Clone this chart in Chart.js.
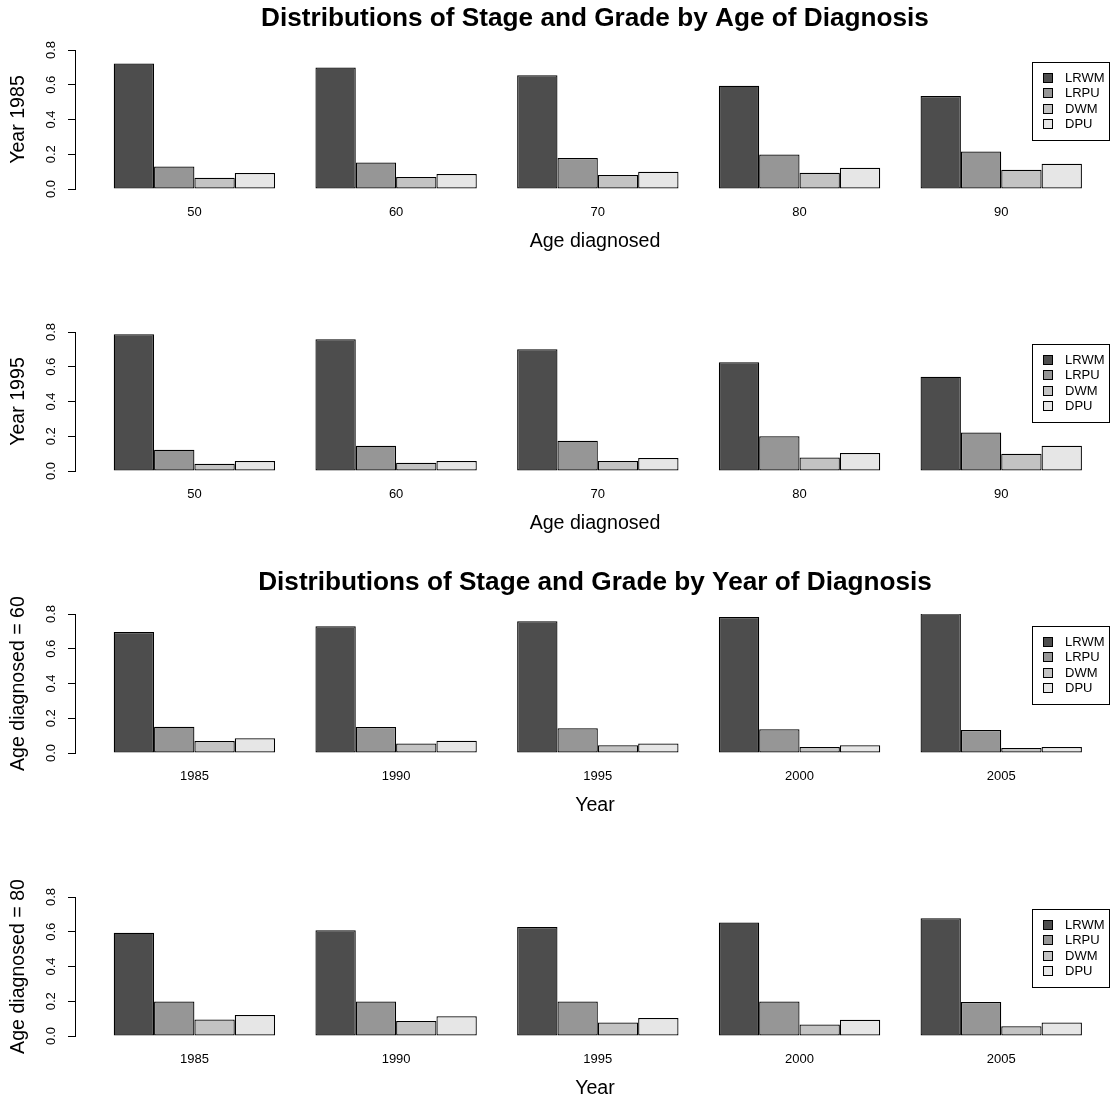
<!DOCTYPE html>
<html>
<head>
<meta charset="utf-8">
<script src="https://cdn.jsdelivr.net/npm/chart.js@4/dist/chart.umd.min.js"></script>
<style>
  html, body { margin: 0; padding: 0; background: #fff; overflow: hidden; }
  .panel { position: absolute; left: 0; width: 1115px; height: 255px; }
</style>
</head>
<body>
<div class="panel" style="top:0px"><canvas id="c1" width="1115" height="255"></canvas></div>
<div class="panel" style="top:282px"><canvas id="c2" width="1115" height="255"></canvas></div>
<div class="panel" style="top:564px"><canvas id="c3" width="1115" height="255"></canvas></div>
<div class="panel" style="top:847px"><canvas id="c4" width="1115" height="255"></canvas></div>
<script>
const series = ["LRWM", "LRPU", "DWM", "DPU"];
const barColors = ["#4d4d4d", "#969696", "#c3c3c3", "#e6e6e6"];

const ages = [50, 60, 70, 80, 90];
const years = [1985, 1990, 1995, 2000, 2005];
const yTicks = [0, 0.2, 0.4, 0.6, 0.8];

// by age of diagnosis, year 1985
const lrwm1985 = [0.722, 0.700, 0.655, 0.595, 0.536];
const lrpu1985 = [0.130, 0.153, 0.178, 0.199, 0.216];
const dwm1985 = [0.065, 0.069, 0.080, 0.094, 0.111];
const dpu1985 = [0.092, 0.086, 0.100, 0.122, 0.146];

// by age of diagnosis, year 1995
const lrwm1995 = [0.787, 0.758, 0.701, 0.626, 0.542];
const lrpu1995 = [0.122, 0.145, 0.174, 0.200, 0.221];
const dwm1995 = [0.042, 0.048, 0.057, 0.078, 0.099];
const dpu1995 = [0.057, 0.058, 0.075, 0.104, 0.145];

// by year of diagnosis, age 60
const lrwmAge60 = [0.697, 0.729, 0.758, 0.783, 0.804];
const lrpuAge60 = [0.151, 0.149, 0.143, 0.137, 0.132];
const dwmAge60 = [0.069, 0.055, 0.044, 0.034, 0.029];
const dpuAge60 = [0.085, 0.071, 0.055, 0.044, 0.034];

// by year of diagnosis, age 80
const lrwmAge80 = [0.594, 0.609, 0.628, 0.653, 0.678];
const lrpuAge80 = [0.198, 0.198, 0.198, 0.198, 0.196];
const dwmAge80 = [0.095, 0.087, 0.077, 0.066, 0.056];
const dpuAge80 = [0.121, 0.114, 0.104, 0.093, 0.078];

const panels = [
  { id: "c1", title: "Distributions of Stage and Grade by Age of Diagnosis", yTitle: "Year 1985",
    xTitle: "Age diagnosed", groups: ages, data: [lrwm1985, lrpu1985, dwm1985, dpu1985] },
  { id: "c2", title: "", yTitle: "Year 1995",
    xTitle: "Age diagnosed", groups: ages, data: [lrwm1995, lrpu1995, dwm1995, dpu1995] },
  { id: "c3", title: "Distributions of Stage and Grade by Year of Diagnosis", yTitle: "Age diagnosed = 60",
    xTitle: "Year", groups: years, data: [lrwmAge60, lrpuAge60, dwmAge60, dpuAge60] },
  { id: "c4", title: "", yTitle: "Age diagnosed = 80",
    xTitle: "Year", groups: years, data: [lrwmAge80, lrpuAge80, dwmAge80, dpuAge80] },
];

const fontFamily = "'Liberation Sans', Arial, Helvetica, sans-serif";
Chart.defaults.font.family = fontFamily;
Chart.defaults.color = "#000";

// boxed legend in the top right corner, like R's legend()
const boxLegend = {
  id: "boxLegend",
  afterDatasetsDraw(chart) {
    const { ctx, chartArea } = chart;
    const sets = chart.data.datasets;
    const w = 77;
    const rowH = 15.5;
    const h = rowH * sets.length + 16;
    const left = Math.round(chart.width - 6 - w);
    const top = Math.round(chartArea.top + 11.5);
    ctx.save();
    ctx.fillStyle = "#fff";
    ctx.fillRect(left, top, w, h);
    ctx.strokeStyle = "#000";
    ctx.lineWidth = 1;
    ctx.strokeRect(left + 0.5, top + 0.5, w, h);
    ctx.font = "13px " + fontFamily;
    ctx.textBaseline = "middle";
    ctx.textAlign = "left";
    sets.forEach((ds, i) => {
      const cy = Math.round(top + 15.6 + i * rowH);
      ctx.fillStyle = ds.backgroundColor;
      ctx.fillRect(left + 11.5, cy - 4.5, 9, 9);
      ctx.strokeRect(left + 11.5, cy - 4.5, 9, 9);
      ctx.fillStyle = "#000";
      ctx.fillText(ds.label, left + 33, cy + 0.5);
    });
    ctx.restore();
  },
};

function makeChart(p) {
  const step = p.groups[1] - p.groups[0];
  new Chart(document.getElementById(p.id), {
    type: "bar",
    data: {
      labels: p.groups,
      datasets: series.map((name, i) => ({
        label: name,
        data: p.data[i],
        backgroundColor: barColors[i],
        borderColor: "#000",
        borderWidth: 1.25,
        borderSkipped: false,
        categoryPercentage: 0.8,
        barPercentage: 1,
      })),
    },
    options: {
      responsive: false,
      animation: false,
      layout: { padding: { top: p.title ? 0 : 50, left: 0, right: 0, bottom: 0 } },
      plugins: {
        legend: { display: false },
        tooltip: { enabled: false },
        title: {
          display: !!p.title,
          text: p.title,
          fullSize: false,
          color: "#000",
          font: { size: 26.2, weight: "bold" },
          padding: { top: 3.3, bottom: 15.3 },
        },
      },
      scales: {
        x: {
          type: "linear",
          offset: false,
          bounds: "data",
          min: p.groups[0] - 0.592 * step,
          max: p.groups[p.groups.length - 1] + 0.564 * step,
          grid: { display: false, drawTicks: false },
          border: { display: false },
          afterBuildTicks: (s) => {
            s.ticks = p.groups.map((v) => ({ value: v }));
          },
          ticks: {
            autoSkip: false,
            maxRotation: 0,
            padding: 16,
            color: "#000",
            font: { size: 13 },
            callback: (v) => String(v),
          },
          title: {
            display: true,
            text: p.xTitle,
            color: "#000",
            font: { size: 19.6 },
            padding: { top: 0, bottom: 2 },
          },
          afterFit: (s) => {
            s.height = 66;
          },
        },
        y: {
          min: 0,
          max: 0.8,
          afterBuildTicks: (s) => {
            s.ticks = yTicks.map((v) => ({ value: v }));
          },
          ticks: {
            autoSkip: false,
            minRotation: 90,
            maxRotation: 90,
            crossAlign: "center",
            padding: 8,
            color: "#000",
            font: { size: 13 },
            callback: (v) => v.toFixed(1),
          },
          grid: { drawOnChartArea: false, drawTicks: true, tickLength: 7, color: "#000", lineWidth: 1 },
          border: { display: true, color: "#000", width: 1 },
          title: {
            display: true,
            text: p.yTitle,
            color: "#000",
            font: { size: 19.6 },
            padding: { top: 7, bottom: 0 },
          },
          afterFit: (s) => {
            s.width = 75;
          },
        },
      },
    },
    plugins: [boxLegend],
  });
}

panels.forEach(makeChart);
</script>
</body>
</html>
